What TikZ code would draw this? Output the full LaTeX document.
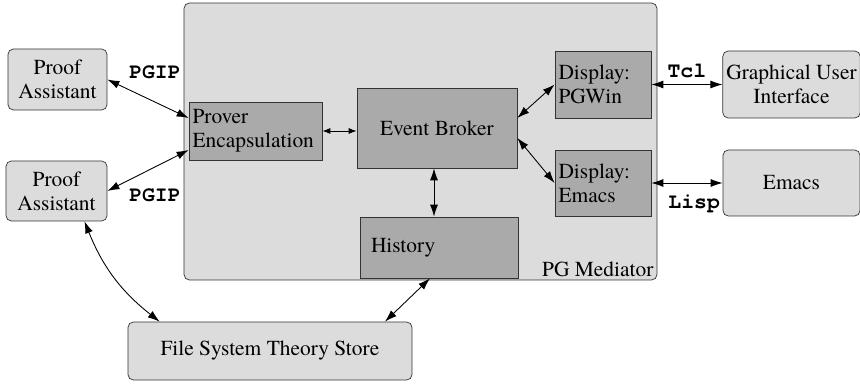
\documentclass[tikz,border=0pt]{standalone}
\usepackage{fontspec}
\setmainfont{TeX Gyre Termes}
\setmonofont{TeX Gyre Cursor}
\usetikzlibrary{arrows.meta}
\definecolor{light-gray}{RGB}{220, 220, 220}
\definecolor{mid-gray}{RGB}{170, 170, 170}

\begin{document}
\begin{tikzpicture}[x=0.02cm, y=-0.02cm,
                every node/.style={font=\fontsize{12.2}{13.8}\selectfont\rmfamily},
                outer/.style={draw=black!80, fill=light-gray, rounded corners=3pt, inner sep=2pt, align=center},
                inner/.style={draw=black!80, fill=mid-gray, inner xsep=2pt, align=left},
                link/.style={{Latex[length=2.4mm,width=1.6mm]}-{Latex[length=2.4mm,width=1.6mm]}, line width=0.5pt},
                short/.style={{Latex[length=1.6mm,width=1.2mm]}-{Latex[length=1.6mm,width=1.2mm]}, line width=0.5pt},
                proto/.style={font=\fontsize{12.2}{13.8}\selectfont\ttfamily\bfseries}]
                \useasboundingbox (0, 0) rectangle (860, 384);
                \node[outer, minimum width=9.46cm, minimum height=5.54cm] (med) at (420.5, 141.5) {};
                \node[anchor=south east, inner sep=2pt] (medlabel) at (med.south east) {PG Mediator};
                \node[outer, minimum width=1.98cm, minimum height=1.22cm] (pa1) at (57.5, 79.5) {Proof\\Assistant};
                \node[outer, minimum width=2.02cm, minimum height=1.2cm] (pa2) at (56.5, 191) {Proof\\Assistant};
                \node[inner, text width=2.52cm, minimum height=1.16cm] (prover) at (255.5, 131) {Prover\\Encapsulation};
                \node[inner, align=center, minimum width=3.2cm, minimum height=1.6cm] (broker) at (437, 128) {Event Broker};
                \node[inner, text width=1.78cm, minimum height=1.34cm] (pgwin) at (603, 84.5) {Display:\\PGWin};
                \node[inner, text width=1.78cm, minimum height=1.32cm] (dispemacs) at (603, 183) {Display:\\Emacs};
                \node[inner, text width=2.72cm, inner xsep=0.22cm, minimum height=1.22cm] (hist) at (439, 247.5) {History\\[2pt]};
                \node[outer, minimum width=2.74cm, minimum height=1.34cm] (gui) at (791.5, 84.5) {Graphical User\\Interface};
                \node[outer, minimum width=2.74cm, minimum height=1.32cm] (emacs) at (791.5, 183) {Emacs};
                \node[outer, minimum width=5.68cm, minimum height=1.16cm] (fs) at (270, 351) {File System Theory Store};
                \draw[link] (pa1.east) -- node[midway, above=0.28cm, xshift=0.14cm, proto]{PGIP} ([yshift=0.26cm]prover.west);
                \draw[link] (pa2.east) -- node[midway, below=0.24cm, xshift=0.14cm, proto]{PGIP} ([yshift=-0.38cm]prover.west);
                \draw[short] (prover.east) -- (prover.east -| broker.west);
                \draw[link] ([yshift=0.2cm]broker.east) -- (pgwin.west);
                \draw[link] ([yshift=-0.2cm]broker.east) -- (dispemacs.west);
                \draw[link] (pgwin.east) -- node[midway, above=0pt, proto]{Tcl} (gui.west);
                \draw[link] (dispemacs.east) -- node[pos=0.6, below=3pt, proto]{Lisp} (emacs.west);
                \draw[link] ([xshift=-0.06cm]broker.south) -- ([xshift=-0.06cm]broker.south |- hist.north);
                \draw[link] ([xshift=-0.18cm]hist.south) -- ([xshift=2.3cm]fs.north);
                \draw[link] ([xshift=0.56cm]pa2.south) to[bend right=15] ([xshift=0.64cm]fs.north west);
            \end{tikzpicture}
\end{document}
